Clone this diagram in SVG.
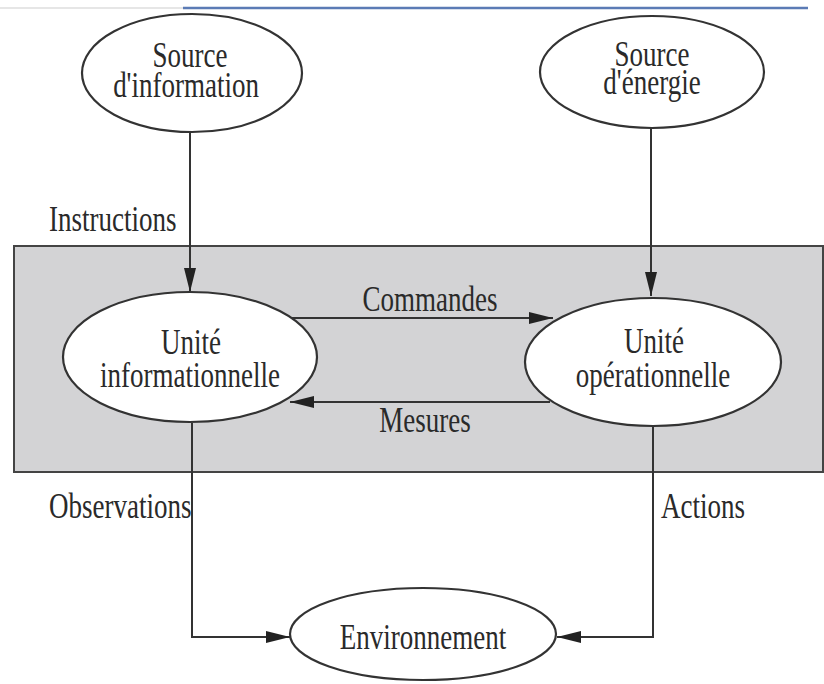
<svg xmlns="http://www.w3.org/2000/svg" width="824" height="684" viewBox="0 0 824 684">
<defs>
<style>
.node{fill:#fff;stroke:#333;stroke-width:2.2}
.t{font-family:"Liberation Serif","Times New Roman",serif;font-size:27px;fill:#2a2a2a;text-anchor:middle}
.l{font-family:"Liberation Serif","Times New Roman",serif;font-size:27px;fill:#2a2a2a}
.c{fill:none;stroke:#333;stroke-width:2}
</style>
<marker id="ah" viewBox="0 0 24 12" refX="24" refY="6" markerWidth="24" markerHeight="12" markerUnits="userSpaceOnUse" orient="auto">
<path d="M0,0 L24,6 L0,12 Z" fill="#222"/>
</marker>
</defs>
<rect width="824" height="684" fill="#fff"/>
<line x1="0" y1="8" x2="183" y2="8" stroke="#e6e6e6" stroke-width="2"/>
<line x1="183" y1="8" x2="808" y2="8" stroke="#5b7bb5" stroke-width="2.5"/>
<rect id="system" x="14" y="246" width="809" height="226" fill="#d3d3d5" stroke="#444" stroke-width="2"/>
<g id="connectors">
<line class="c" x1="190" y1="132" x2="190" y2="292" marker-end="url(#ah)"/>
<line class="c" x1="651" y1="128" x2="651" y2="296" marker-end="url(#ah)"/>
<line class="c" x1="292" y1="318" x2="553" y2="318" marker-end="url(#ah)"/>
<line class="c" x1="550" y1="402" x2="290" y2="402" marker-end="url(#ah)"/>
<polyline class="c" points="192,423 192,637 290,637" marker-end="url(#ah)"/>
<polyline class="c" points="653,427 653,637 557,637" marker-end="url(#ah)"/>
</g>
<g id="labels">
<text class="l" transform="translate(49,231) scale(1,1.3)">Instructions</text>
<text class="t" transform="translate(430,311) scale(1,1.3)">Commandes</text>
<text class="t" transform="translate(425,432) scale(1,1.3)">Mesures</text>
<text class="l" transform="translate(49,518) scale(1,1.3)">Observations</text>
<text class="l" transform="translate(661,518) scale(1,1.3)">Actions</text>
</g>
<g id="source-information">
<ellipse class="node" cx="192" cy="73" rx="110" ry="59"/>
<text class="t" transform="translate(190,67) scale(1,1.3)">Source</text>
<text class="t" transform="translate(186,97) scale(1,1.3)">d'information</text>
</g>
<g id="source-energie">
<ellipse class="node" cx="652" cy="72" rx="112" ry="56"/>
<text class="t" transform="translate(652,66) scale(1,1.3)">Source</text>
<text class="t" transform="translate(652,94) scale(1,1.3)">d'énergie</text>
</g>
<g id="unite-informationnelle">
<ellipse class="node" cx="190" cy="357" rx="127" ry="65"/>
<text class="t" transform="translate(191,354) scale(1,1.3)">Unité</text>
<text class="t" transform="translate(190,387) scale(1,1.3)">informationnelle</text>
</g>
<g id="unite-operationnelle">
<ellipse class="node" cx="653" cy="362" rx="128" ry="64"/>
<text class="t" transform="translate(654,353) scale(1,1.3)">Unité</text>
<text class="t" transform="translate(653,387) scale(1,1.3)">opérationnelle</text>
</g>
<g id="environnement">
<ellipse class="node" cx="423" cy="634" rx="133" ry="46"/>
<text class="t" transform="translate(423,649) scale(1,1.3)">Environnement</text>
</g>
</svg>
